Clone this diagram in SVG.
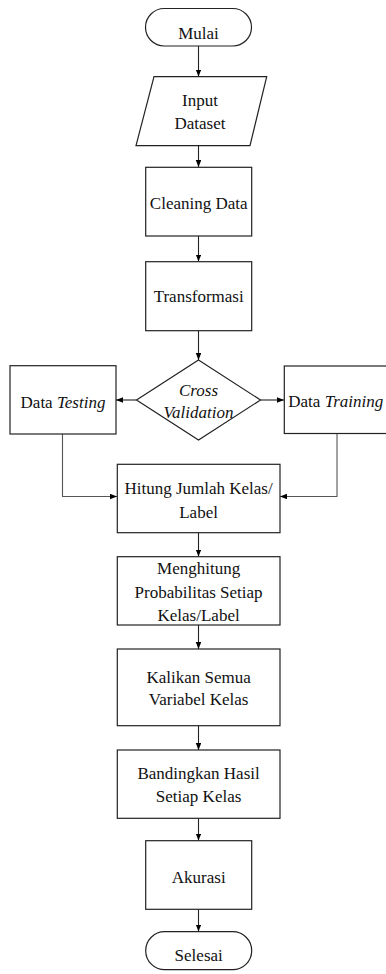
<svg xmlns="http://www.w3.org/2000/svg" width="386" height="974" viewBox="0 0 386 974">
<defs>
<marker id="ah" markerUnits="userSpaceOnUse" markerWidth="8" markerHeight="6" refX="7" refY="2.75" orient="auto">
<path d="M0,0 L7,2.75 L0,5.5 z" fill="#000"/>
</marker>
<style>
.shape{fill:#fff;stroke:#222;stroke-width:1.2}
.t{font-family:'Liberation Serif','Times New Roman',Tinos,'DejaVu Serif',serif;font-size:17px;fill:#111;text-anchor:middle}
.i{font-style:italic}
.c{fill:none;stroke:#222;stroke-width:1.1;marker-end:url(#ah)}
.c2{fill:none;stroke:#555;stroke-width:1.1;marker-end:url(#ah)}
</style>
</defs>
<rect width="386" height="974" fill="#fff"/>
<g id="connectors">
<line class="c" x1="198.5" y1="46" x2="198.5" y2="76.5"/>
<line class="c" x1="198.5" y1="146" x2="198.5" y2="167"/>
<line class="c" x1="198.5" y1="236" x2="198.5" y2="261.5"/>
<line class="c" x1="198.5" y1="331" x2="198.5" y2="360"/>
<line class="c" x1="136.5" y1="400" x2="116" y2="400"/>
<line class="c" x1="260.5" y1="400" x2="284" y2="400"/>
<path class="c2" d="M62.5,434 V496.5 H117"/>
<path class="c2" d="M337,433.5 V496.5 H280"/>
<line class="c" x1="198.5" y1="533" x2="198.5" y2="556.5"/>
<line class="c" x1="198.5" y1="625" x2="198.5" y2="649"/>
<line class="c" x1="198.5" y1="726" x2="198.5" y2="750"/>
<line class="c" x1="198.5" y1="818.5" x2="198.5" y2="840.5"/>
<line class="c" x1="198.5" y1="909.5" x2="198.5" y2="931.5"/>
</g>
<g id="mulai">
<rect class="shape" x="145.5" y="8.5" width="106" height="37.5" rx="18.75" ry="18.75"/>
<text class="t" x="198.5" y="38.5" font-family="Liberation Serif, serif">Mulai</text>
</g>
<g id="input">
<polygon class="shape" points="154,76.7 266.7,76.7 250,145.7 136,145.7"/>
<text class="t" x="200" y="106">Input</text>
<text class="t" x="200" y="129">Dataset</text>
</g>
<g id="cleaning">
<rect class="shape" x="145.7" y="167.3" width="106" height="68.7"/>
<text class="t" x="198.7" y="208.5">Cleaning Data</text>
</g>
<g id="transformasi">
<rect class="shape" x="145.7" y="261.7" width="106" height="69"/>
<text class="t" x="198.7" y="302">Transformasi</text>
</g>
<g id="cross-validation">
<polygon class="shape" points="198.5,360 260.5,400 198.5,440 136.5,400"/>
<text class="t i" x="198.5" y="395.5">Cross</text>
<text class="t i" x="198.5" y="417.5">Validation</text>
</g>
<g id="data-testing">
<rect class="shape" x="10" y="365.7" width="106" height="68.3"/>
<text class="t" x="63" y="407.5">Data <tspan class="i">Testing</tspan></text>
</g>
<g id="data-training">
<rect class="shape" x="284.3" y="366" width="106" height="67.5"/>
<text class="t" x="288.3" y="406.5" style="text-anchor:start">Data <tspan class="i">Training</tspan></text>
</g>
<g id="hitung">
<rect class="shape" x="117.3" y="464.3" width="162.7" height="68.4"/>
<text class="t" x="198.6" y="494">Hitung Jumlah Kelas/</text>
<text class="t" x="198.6" y="517.5">Label</text>
</g>
<g id="menghitung">
<rect class="shape" x="117.3" y="556.7" width="162.7" height="68.3"/>
<text class="t" x="198.6" y="574">Menghitung</text>
<text class="t" x="198.6" y="597.5">Probabilitas Setiap</text>
<text class="t" x="198.6" y="621">Kelas/Label</text>
</g>
<g id="kalikan">
<rect class="shape" x="117.3" y="649" width="162.7" height="76.7"/>
<text class="t" x="198.6" y="682.5">Kalikan Semua</text>
<text class="t" x="198.6" y="705">Variabel Kelas</text>
</g>
<g id="bandingkan">
<rect class="shape" x="117.3" y="750" width="162.7" height="68.3"/>
<text class="t" x="198.6" y="779">Bandingkan Hasil</text>
<text class="t" x="198.6" y="802">Setiap Kelas</text>
</g>
<g id="akurasi">
<rect class="shape" x="145.7" y="840.7" width="106" height="68.6"/>
<text class="t" x="198.7" y="882.5">Akurasi</text>
</g>
<g id="selesai">
<rect class="shape" x="145.7" y="931.7" width="106" height="38" rx="19" ry="19"/>
<text class="t" x="198.7" y="961">Selesai</text>
</g>
</svg>
